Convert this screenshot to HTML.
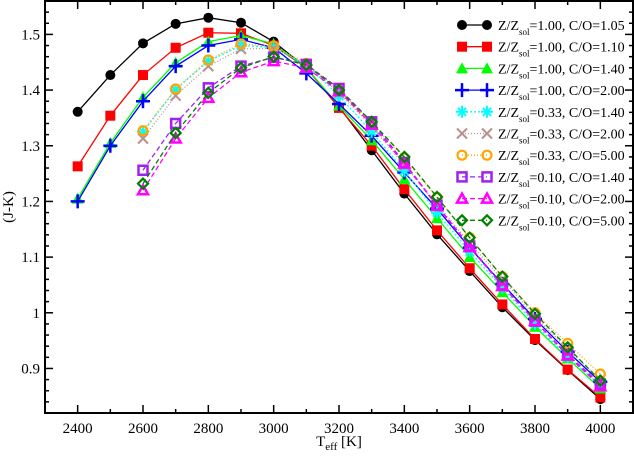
<!DOCTYPE html>
<html><head><meta charset="utf-8"><style>
body{margin:0;background:#fff}
svg text{font-family:"Liberation Serif",serif;fill:#000}
</style></head><body>
<svg id="c" width="634" height="454" xmlns="http://www.w3.org/2000/svg"></svg>
<script>
const temps=[2400,2500,2600,2700,2800,2900,3000,3100,3200,3300,3400,3500,3600,3700,3800,3900,4000];
const xTicks=[2400,2600,2800,3000,3200,3400,3600,3800,4000];
const yTicks=[0.9,1.0,1.1,1.2,1.3,1.4,1.5];
const yTickLabels=["0.9","1","1.1","1.2","1.3","1.4","1.5"];
const sBlack=[1.361,1.427,1.484,1.519,1.530,1.521,1.487,1.44,1.370,1.292,1.214,1.141,1.075,1.010,0.951,0.897,0.845];
const sRed=[1.263,1.354,1.427,1.476,1.503,1.502,1.480,1.44,1.368,1.300,1.222,1.148,1.080,1.015,0.953,0.898,0.848];
const sGreen=[1.205,1.305,1.387,1.449,1.487,1.498,1.483,1.44,1.372,1.310,1.240,1.170,1.100,1.037,0.975,0.918,0.864];
const sBlue=[1.200,1.300,1.380,1.443,1.480,1.491,1.476,1.430,1.375,1.318,1.252,1.187,1.117,1.052,0.989,0.930,0.876];
const sCyan=[null,null,1.325,1.401,1.452,1.480,1.477,1.445,1.390,1.325,1.255,1.180,1.110,1.045,0.980,0.920,0.870];
const sBrown=[null,null,1.313,1.390,1.443,1.474,1.475,1.447,1.395,1.335,1.265,1.195,1.125,1.060,0.993,0.935,0.880];
const sOrange=[null,null,1.327,1.402,1.454,1.483,1.479,1.448,1.400,1.340,1.278,1.207,1.135,1.065,1.000,0.945,0.890];
const sPurple=[null,null,1.256,1.340,1.404,1.443,1.459,1.446,1.403,1.343,1.270,1.193,1.120,1.050,0.985,0.925,0.872];
const sMagenta=[null,null,1.220,1.313,1.386,1.432,1.452,1.440,1.398,1.338,1.268,1.192,1.118,1.048,0.985,0.923,0.868];
const sDkGreen=[null,null,1.232,1.323,1.395,1.440,1.460,1.445,1.400,1.343,1.280,1.208,1.135,1.065,0.998,0.938,0.878];
const seriesLabels=["1.00, C/O=1.05","1.00, C/O=1.10","1.00, C/O=1.40","1.00, C/O=2.00","0.33, C/O=1.40","0.33, C/O=2.00","0.33, C/O=5.00","0.10, C/O=1.40","0.10, C/O=2.00","0.10, C/O=5.00"];
const series=[sBlack,sRed,sGreen,sBlue,sCyan,sBrown,sOrange,sPurple,sMagenta,sDkGreen];
const styles=[
 {c:"#000",d:"",m:"circle",n:"black"},{c:"#f00",d:"",m:"square",n:"red"},{c:"#0f0",d:"",m:"tri",n:"green"},{c:"#00f",d:"",m:"plus",n:"blue"},
 {c:"#0ff",d:"2,2",m:"star",n:"cyan"},{c:"#bc8f8f",d:"1,2",m:"x",n:"brown"},{c:"#ffa500",d:"1,2",m:"ocircle",n:"orange"},
 {c:"#a020f0",d:"5,3",m:"osquare",n:"purple"},{c:"#f0f",d:"5,3",m:"otri",n:"magenta"},{c:"#008000",d:"5,3",m:"diamond",n:"darkgreen"}];
const L=45,R=633,T=1,B=413,X0=2300,X1=4100,Y0=0.82,Y1=1.56;
const sx=v=>L+(v-X0)/(X1-X0)*(R-L);
const sy=v=>B-(v-Y0)/(Y1-Y0)*(B-T);
const svg=document.getElementById('c');
const NS="http://www.w3.org/2000/svg";
function mk(t,a,p){const e=document.createElementNS(NS,t);for(const k in a)e.setAttribute(k,a[k]);(p||svg).appendChild(e);return e;}
function marker(g,m,x,y,c){
 let e;
 if(m==="circle")e=mk("circle",{cx:x,cy:y,r:5,fill:c},g);
 else if(m==="square")e=mk("rect",{x:x-5,y:y-5,width:10,height:10,fill:c},g);
 else if(m==="tri")e=mk("polygon",{points:`${x},${y-6} ${x-6},${y+5} ${x+6},${y+5}`,fill:c},g);
 else if(m==="otri")e=mk("polygon",{points:`${x},${y-5} ${x-5},${y+4} ${x+5},${y+4}`,fill:"none",stroke:c,"stroke-width":2.5},g);
 else if(m==="plus")e=mk("path",{d:`M${x-7},${y}H${x+7}M${x},${y-7}V${y+7}`,stroke:c,"stroke-width":2.5,fill:"none"},g);
 else if(m==="x")e=mk("path",{d:`M${x-5},${y-5}L${x+5},${y+5}M${x-5},${y+5}L${x+5},${y-5}`,stroke:c,"stroke-width":2,fill:"none"},g);
 else if(m==="star")e=mk("path",{d:`M${x-6},${y}H${x+6}M${x},${y-6}V${y+6}M${x-4},${y-4}L${x+4},${y+4}M${x-4},${y+4}L${x+4},${y-4}`,stroke:c,"stroke-width":2,fill:"none"},g);
 else if(m==="ocircle")e=mk("circle",{cx:x,cy:y,r:4.5,fill:"none",stroke:c,"stroke-width":2.2},g);
 else if(m==="osquare")e=mk("rect",{x:x-4.5,y:y-4.5,width:9,height:9,fill:"none",stroke:c,"stroke-width":2.5},g);
 else e=mk("polygon",{points:`${x},${y-5} ${x+5},${y} ${x},${y+5} ${x-5},${y}`,fill:"none",stroke:c,"stroke-width":2.2},g);
 
 
}
// frame
const fr=mk("rect",{x:L,y:T,width:R-L,height:B-T,fill:"none",stroke:"#000","stroke-width":2});


// ticks
for(let v=X0;v<=X1;v+=100){const x=sx(v),len=(v%200===0)?8:4;
 mk("line",{x1:x,y1:B,x2:x,y2:B-len,stroke:"#000","stroke-width":1.5});
 mk("line",{x1:x,y1:T,x2:x,y2:T+len,stroke:"#000","stroke-width":1.5});}
xTicks.forEach(v=>{const t=mk("text",{x:sx(v),y:B+20,"font-size":15,"text-anchor":"middle"});t.textContent=v;
 
 });
for(let i=0;i<=37;i++){const v=0.82+i*0.02;const x=sy(v);const maj=Math.abs(Math.round(v*10)-v*10)<1e-6;const len=maj?8:4;
 mk("line",{x1:L,y1:x,x2:L+len,y2:x,stroke:"#000","stroke-width":1.5});
 mk("line",{x1:R,y1:x,x2:R-len,y2:x,stroke:"#000","stroke-width":1.5});}
yTicks.forEach((v,i)=>{const t=mk("text",{x:L-5,y:sy(v)+5,"font-size":15,"text-anchor":"end"});t.textContent=yTickLabels[i];
 
 });
// axis titles
const xt=mk("text",{x:339,y:446,"font-size":15,"text-anchor":"middle"});
xt.innerHTML='T<tspan font-size="11" dy="4">eff</tspan><tspan dy="-4"> [K]</tspan>';


const yt=mk("text",{x:0,y:0,"font-size":15,"text-anchor":"middle",transform:"translate(13,207) rotate(-90)"});
yt.textContent="(J-K)";


// series
series.forEach((s,k)=>{const st=styles[k];const g=mk("g",{});
 
 
 const pts=[];s.forEach((v,i)=>{if(v!==null)pts.push([sx(temps[i]),sy(v)]);});
 const pl=mk("polyline",{points:pts.map(p=>p.join(",")).join(" "),fill:"none",stroke:st.c,"stroke-width":1.3,"stroke-dasharray":st.d},g);
 
 
 pts.forEach(p=>marker(g,st.m,p[0],p[1],st.c));});
// legend
const lg=mk("g",{});


seriesLabels.forEach((lab,k)=>{const st=styles[k];const y=25+k*21.7;const g=mk("g",{},lg);
 
 
 mk("line",{x1:462,y1:y,x2:487,y2:y,stroke:st.c,"stroke-width":1.3,"stroke-dasharray":st.d},g);
 marker(g,st.m,462,y,st.c);marker(g,st.m,487,y,st.c);
 const t=mk("text",{x:498,y:y+5,"font-size":14},g);
 t.innerHTML='Z/Z<tspan font-size="9" dy="5">sol</tspan><tspan dy="-5">='+lab+'</tspan>';});
</script>
</body></html>
